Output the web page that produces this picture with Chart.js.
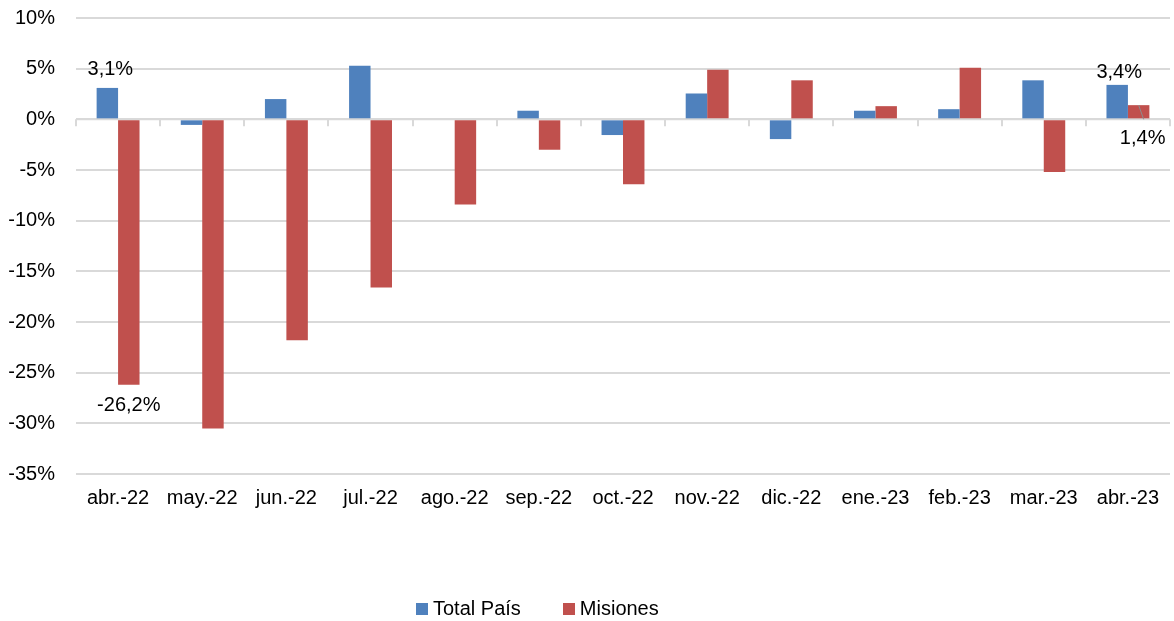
<!DOCTYPE html>
<html lang="es">
<head>
<meta charset="utf-8">
<title>Variación interanual - Total País y Misiones</title>
<script src="https://cdn.jsdelivr.net/npm/chart.js@4"></script>
<style>
    body { margin: 0; background: #fff; }
    #contenedor { position: relative; width: 1174px; height: 621px; }
    #leyenda {
        position: absolute; top: 597px; left: 416px;
        display: flex; align-items: center;
        font: 20px "Liberation Sans", Arial, sans-serif; color: #000;
    }
    #leyenda span.caja { display: inline-block; width: 12px; height: 12px; margin-right: 5px; }
    #leyenda span.item { display: flex; align-items: center; margin-right: 42px; }
</style>
</head>
<body>
<div id="contenedor">
    <canvas id="grafico" width="1174" height="621"></canvas>
    <div id="leyenda"></div>
</div>
<script>
const meses = ['abr.-22', 'may.-22', 'jun.-22', 'jul.-22', 'ago.-22', 'sep.-22', 'oct.-22',
    'nov.-22', 'dic.-22', 'ene.-23', 'feb.-23', 'mar.-23', 'abr.-23'];
const totalPais = [3.1, -0.55, 2.0, 5.3, -0.1, 0.85, -1.55, 2.55, -1.95, 0.85, 1.0, 3.85, 3.4];
const misiones = [-26.2, -30.5, -21.8, -16.6, -8.4, -3.0, -6.4, 4.9, 3.85, 1.3, 5.1, -5.2, 1.4];
const ticksY = [-35, -30, -25, -20, -15, -10, -5, 0, 5, 10];
// puntos con etiqueta: [dataset, indice]
const etiquetados = [[0, 0], [1, 0], [0, 12], [1, 12]];

const fuente = '"Liberation Sans", Arial, sans-serif';
const azul = '#4f81bd';
const rojo = '#c0504d';
const gris = '#d9d9d9';

function porcentaje(v) {
    return v.toFixed(1).replace('.', ',') + '%';
}

// linea del cero con marcas entre categorias
const ejeCero = {
    id: 'ejeCero',
    beforeDatasetsDraw(chart) {
        const ctx = chart.ctx;
        const x = chart.scales.x;
        const y0 = chart.scales.y.getPixelForValue(0);
        const paso = (x.right - x.left) / meses.length;
        ctx.save();
        ctx.strokeStyle = gris;
        ctx.lineWidth = 2;
        ctx.beginPath();
        ctx.moveTo(x.left, y0);
        ctx.lineTo(x.right, y0);
        for (let i = 0; i <= meses.length; i++) {
            const px = Math.round(x.left + i * paso);
            ctx.moveTo(px, y0);
            ctx.lineTo(px, y0 + 7);
        }
        ctx.stroke();
        ctx.restore();
    }
};

// etiquetas de datos en el primer y ultimo mes
const etiquetas = {
    id: 'etiquetas',
    afterDatasetsDraw(chart) {
        const ctx = chart.ctx;
        ctx.save();
        ctx.font = '20px ' + fuente;
        ctx.fillStyle = '#000';
        ctx.textAlign = 'center';
        ctx.textBaseline = 'middle';
        etiquetados.forEach(([ds, i]) => {
            const barra = chart.getDatasetMeta(ds).data[i];
            const v = chart.data.datasets[ds].data[i];
            let tx = barra.x, ty;
            if (ds === 1 && i === meses.length - 1) {
                // etiqueta abajo a la derecha con linea guia
                tx = barra.x + 4;
                ty = barra.base + 20;
                ctx.strokeStyle = '#8c8c8c';
                ctx.lineWidth = 1;
                ctx.beginPath();
                ctx.moveTo(barra.x, barra.y);
                ctx.lineTo(barra.x + 5, barra.base + 1);
                ctx.stroke();
            } else if (v >= 0) {
                tx = barra.x + (i === 0 ? 3 : 2);
                ty = barra.y - (i === 0 ? 18 : 12);
            } else {
                ty = barra.y + 21;
            }
            ctx.fillText(porcentaje(v), tx, ty);
        });
        ctx.restore();
    }
};

const chart = new Chart(document.getElementById('grafico'), {
    type: 'bar',
    data: {
        labels: meses,
        datasets: [
            { label: 'Total País', data: totalPais, backgroundColor: azul },
            { label: 'Misiones', data: misiones, backgroundColor: rojo }
        ]
    },
    options: {
        responsive: false,
        animation: false,
        events: [],
        layout: { padding: { top: 18, right: 4, left: 0, bottom: 0 } },
        datasets: { bar: { categoryPercentage: 0.51, barPercentage: 1 } },
        plugins: {
            legend: { display: false },
            tooltip: { enabled: false }
        },
        scales: {
            x: {
                grid: { display: false },
                border: { display: false },
                ticks: { color: '#000', font: { family: fuente, size: 20 }, padding: 4, maxRotation: 0, autoSkip: false },
                afterFit(scale) { scale.height = 147; }
            },
            y: {
                min: -35,
                max: 10,
                afterBuildTicks(scale) { scale.ticks = ticksY.map(v => ({ value: v })); },
                grid: { color: gris, lineWidth: 2, drawTicks: false },
                border: { display: false },
                ticks: {
                    color: '#000',
                    font: { family: fuente, size: 20 },
                    padding: 21,
                    callback: v => v + '%'
                },
                afterFit(scale) {
                    scale.width = 76;
                    scale.paddingTop = 0;
                    scale.paddingBottom = 0;
                }
            }
        }
    },
    plugins: [ejeCero, etiquetas]
});

// leyenda
const leyenda = document.getElementById('leyenda');
chart.data.datasets.forEach(d => {
    const item = document.createElement('span');
    item.className = 'item';
    item.innerHTML = '<span class="caja" style="background:' + d.backgroundColor + '"></span>' + d.label;
    leyenda.appendChild(item);
});
</script>
</body>
</html>
